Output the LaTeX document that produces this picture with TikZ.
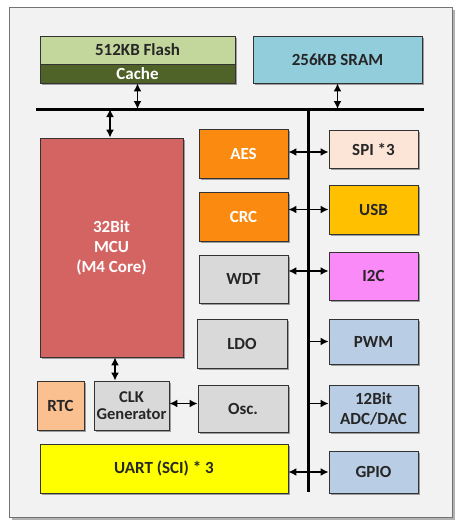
\documentclass[tikz,border=0pt]{standalone}
\usepackage{fontspec}
\setmainfont{Carlito}
\usetikzlibrary{arrows.meta,shadows}

\definecolor{flashgreen}{HTML}{C3D69B}
\definecolor{cachegreen}{HTML}{4F6228}
\definecolor{sramblue}{HTML}{92CDDC}
\definecolor{mcured}{HTML}{D46462}
\definecolor{aesorange}{HTML}{FA8A10}
\definecolor{spipeach}{HTML}{FCE4D6}
\definecolor{usbgold}{HTML}{FFC000}
\definecolor{iicpink}{HTML}{F98AF7}
\definecolor{periblue}{HTML}{B9CDE5}
\definecolor{rtcorange}{HTML}{FAC090}
\definecolor{boxgray}{HTML}{D9D9D9}
\definecolor{uartyellow}{HTML}{FFFF00}
\definecolor{textgray}{HTML}{262626}

\begin{document}
\begin{tikzpicture}[x=1pt, y=-1pt,
    blk/.style={draw=black!80, line width=0.8pt, inner sep=0pt, align=center,
                font=\fontsize{17}{20}\selectfont\bfseries, text=textgray,
                drop shadow={shadow xshift=2pt, shadow yshift=-2pt, fill=black, opacity=0.35}},
    dbl/.style={{Latex[length=8pt,width=8pt]}-{Latex[length=8pt,width=8pt]}, line width=1.7pt},
    sgl/.style={-{Latex[length=8pt,width=8pt]}, line width=1.7pt},
    bus/.style={line width=3pt}]
  \useasboundingbox (0,0) rectangle (460,528);
  % frame
  \fill[white] (0,0) rectangle (460,528);
  \draw[draw=black!55, fill=black!5, line width=0.8pt,
        drop shadow={shadow xshift=3pt, shadow yshift=-3pt, fill=black, opacity=0.3}]
        (9,7) rectangle (452,517);

  % memories
  \node[blk, fill=flashgreen, minimum width=195, minimum height=28] (flash) at (137.5,50) {512KB Flash};
  \node[blk, fill=cachegreen, text=white, minimum width=195, minimum height=19] (cache) at (137.5,73.5) {Cache};
  \node[blk, fill=sramblue, minimum width=169, minimum height=47] (sram) at (337.5,59.5) {256KB SRAM};

  % core side
  \node[blk, fill=mcured, text=white, minimum width=143, minimum height=219] (mcu) at (111.5,247.5) {32Bit\\MCU\\(M4 Core)};
  \node[blk, fill=aesorange, text=white, minimum width=89, minimum height=49] (aes) at (243.5,153.5) {AES};
  \node[blk, fill=aesorange, text=white, minimum width=89, minimum height=49] (crc) at (243.5,216.5) {CRC};
  \node[blk, fill=boxgray, minimum width=89, minimum height=48] (wdt) at (243.5,279) {WDT};
  \node[blk, fill=boxgray, minimum width=90, minimum height=49] (ldo) at (242,343.5) {LDO};
  \node[blk, fill=boxgray, minimum width=90, minimum height=47] (osc) at (243,408.5) {Osc.};
  \node[blk, fill=rtcorange, minimum width=47, minimum height=49] (rtc) at (60.5,405.5) {RTC};
  \node[blk, fill=boxgray, minimum width=75, minimum height=49,
        font=\fontsize{16.5}{16.5}\selectfont\bfseries] (clk) at (131.5,405.5) {CLK\\Generator};
  \node[blk, fill=uartyellow, minimum width=248, minimum height=49] (uart) at (164,468.5) {UART (SCI) * 3};

  % peripherals
  \node[blk, fill=spipeach, minimum width=89, minimum height=38] (spi) at (373.5,149) {SPI *3};
  \node[blk, fill=usbgold, minimum width=89, minimum height=49] (usb) at (373.5,209.5) {USB};
  \node[blk, fill=iicpink, minimum width=89, minimum height=48] (iic) at (373.5,276) {I2C};
  \node[blk, fill=periblue, minimum width=89, minimum height=45] (pwm) at (373.5,341.5) {PWM};
  \node[blk, fill=periblue, minimum width=89, minimum height=47] (adc) at (373.5,408.5) {12Bit\\ADC/DAC};
  \node[blk, fill=periblue, minimum width=89, minimum height=42] (gpio) at (373.5,472) {GPIO};

  % bus
  \coordinate (busL) at (36,109);
  \coordinate (busR) at (424,109);
  \coordinate (busT) at (308,109);
  \coordinate (busB) at (308,492);
  \draw[bus] (busL) -- (busR);
  \draw[bus] (busT) -- (busB);

  % connections
  \draw[dbl] (cache.south) -- (cache.south |- busL);
  \draw[dbl] (sram.south) -- (sram.south |- busL);
  \draw[dbl] ([xshift=-1.5]mcu.north |- busL) -- ([xshift=-1.5]mcu.north);
  \draw[dbl] ([yshift=1.5]aes.east -| spi.west) -- ([yshift=1.5]aes.east);
  \draw[dbl] (usb.west) -- (usb.west -| crc.east);
  \draw[dbl] ([yshift=5]iic.west) -- ([yshift=5]iic.west -| wdt.east);
  \draw[sgl] (pwm.west -| busT) -- (pwm.west);
  \draw[sgl] ([yshift=5]adc.west -| busT) -- ([yshift=5]adc.west);
  \draw[dbl] (gpio.west) -- (gpio.west -| uart.east);
  \draw[dbl] ([xshift=3.5]mcu.south) -- ([xshift=3.5]mcu.south |- clk.north);
  \draw[dbl] ([yshift=2]clk.east) -- ([yshift=2]clk.east -| osc.west);
\end{tikzpicture}
\end{document}
